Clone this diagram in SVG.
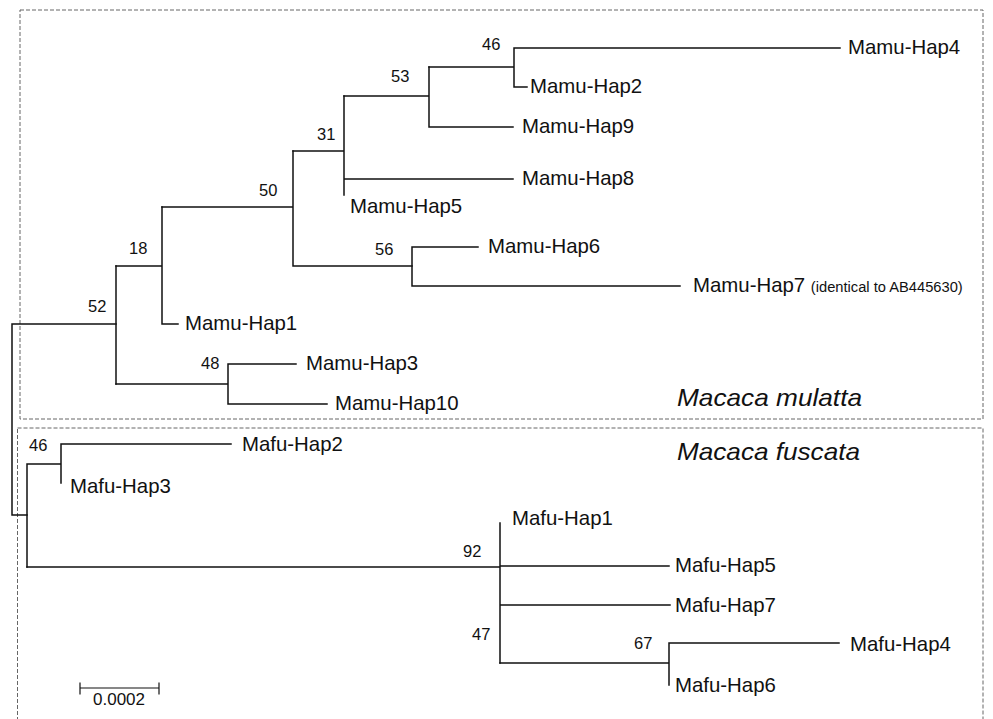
<svg xmlns="http://www.w3.org/2000/svg" width="993" height="719" viewBox="0 0 993 719">
<style>
.br{fill:none;stroke:#111;stroke-width:1.5;stroke-linecap:square}
.box{fill:none;stroke:#666;stroke-width:1;stroke-dasharray:4 2}
.lab{font-family:"Liberation Sans",Arial,sans-serif;font-size:20.4px;fill:#111}
.bs{font-family:"Liberation Sans",Arial,sans-serif;font-size:16.5px;fill:#111}
.sm{font-family:"Liberation Sans",Arial,sans-serif;font-size:14.7px;fill:#111}
.sp{font-family:"Liberation Sans",Arial,sans-serif;font-size:24px;font-style:italic;fill:#111}
</style>
<rect width="993" height="719" fill="#fff"/>
<g id="boxes">
<rect class="box" x="20" y="10" width="963" height="409"/>
<rect class="box" x="17.5" y="428" width="965.5" height="300"/>
</g>
<g id="connectors">
<path class="br" d="M116,324 H12 V515 H27"/>
<path class="br" d="M116,266 V384"/>
<path class="br" d="M116,266 H162 V207 M162,266 V324 H178"/>
<path class="br" d="M162,207 H293 V151 M293,207 V266 H412"/>
<path class="br" d="M412,247 V286 M412,247 H478 M412,286 H680"/>
<path class="br" d="M293,151 H344 V96 M344,151 V195 M344,179 H513"/>
<path class="br" d="M344,96 H429 V67 M429,96 V127 H513"/>
<path class="br" d="M429,67 H514 V48 H840 M514,67 V87 H527"/>
<path class="br" d="M116,384 H228 V364 H296 M228,384 V404 H327"/>
<path class="br" d="M27,464 V567 M27,464 H61 V444 H231 M61,464 V483"/>
<path class="br" d="M27,567 H500 M500,523 V663 M500,566 H669 M500,605 H670"/>
<path class="br" d="M500,663 H669 V643 H839 M669,663 V685"/>
</g>
<g id="n46a"><text class="bs" x="482" y="50">46</text></g>
<g id="n53"><text class="bs" x="391" y="82">53</text></g>
<g id="n31"><text class="bs" x="317" y="140">31</text></g>
<g id="n50"><text class="bs" x="259" y="196">50</text></g>
<g id="n18"><text class="bs" x="129" y="254">18</text></g>
<g id="n52"><text class="bs" x="88" y="312">52</text></g>
<g id="n56"><text class="bs" x="375" y="255">56</text></g>
<g id="n48"><text class="bs" x="201" y="369">48</text></g>
<g id="n46b"><text class="bs" x="29" y="451">46</text></g>
<g id="n92"><text class="bs" x="463" y="557">92</text></g>
<g id="n47"><text class="bs" x="472" y="640">47</text></g>
<g id="n67"><text class="bs" x="634" y="649">67</text></g>
<g id="mamu4"><text class="lab" x="848" y="54">Mamu-Hap4</text></g>
<g id="mamu2"><text class="lab" x="530" y="93">Mamu-Hap2</text></g>
<g id="mamu9"><text class="lab" x="522" y="133">Mamu-Hap9</text></g>
<g id="mamu8"><text class="lab" x="522" y="185">Mamu-Hap8</text></g>
<g id="mamu5"><text class="lab" x="350" y="213">Mamu-Hap5</text></g>
<g id="mamu6"><text class="lab" x="488" y="253">Mamu-Hap6</text></g>
<g id="mamu7"><text class="lab" x="693" y="292">Mamu-Hap7 <tspan class="sm">(identical to AB445630)</tspan></text></g>
<g id="mamu1"><text class="lab" x="185" y="330">Mamu-Hap1</text></g>
<g id="mamu3"><text class="lab" x="306" y="370">Mamu-Hap3</text></g>
<g id="mamu10"><text class="lab" x="335" y="410">Mamu-Hap10</text></g>
<g id="mulatta"><text class="sp" x="677" y="406" textLength="185" lengthAdjust="spacingAndGlyphs">Macaca mulatta</text></g>
<g id="fuscata"><text class="sp" x="677" y="460" textLength="183" lengthAdjust="spacingAndGlyphs">Macaca fuscata</text></g>
<g id="mafu2"><text class="lab" x="242" y="451">Mafu-Hap2</text></g>
<g id="mafu3"><text class="lab" x="70" y="493">Mafu-Hap3</text></g>
<g id="mafu1"><text class="lab" x="512" y="525">Mafu-Hap1</text></g>
<g id="mafu5"><text class="lab" x="675" y="572">Mafu-Hap5</text></g>
<g id="mafu7"><text class="lab" x="675" y="612">Mafu-Hap7</text></g>
<g id="mafu4"><text class="lab" x="850" y="651">Mafu-Hap4</text></g>
<g id="mafu6"><text class="lab" x="675" y="692">Mafu-Hap6</text></g>
<g id="scale">
<path class="br" d="M80,683 V694 M80,688 H159 M159,683 V694" style="stroke-width:1.2"/>
<text class="bs" x="93" y="705" style="font-size:17px">0.0002</text>
</g>
</svg>
